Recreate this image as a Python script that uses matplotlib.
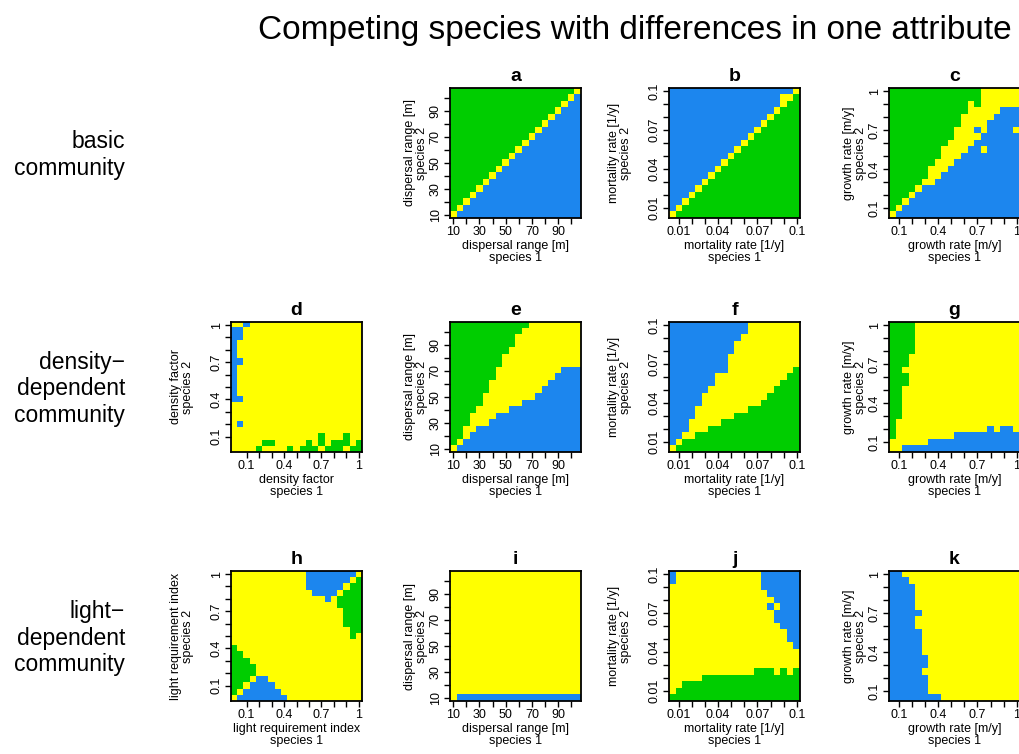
import numpy as np
import matplotlib.pyplot as plt
from matplotlib.colors import ListedColormap

plt.rcParams["font.family"] = ["Liberation Sans", "DejaVu Sans"]

# grid values on both axes (species 1 along x, species 2 along y)
dispersal_values = [10, 15, 20, 25, 30, 35, 40, 45, 50, 55, 60, 65, 70, 75, 80, 85, 90, 95, 100, 105]
mortality_values = [0.005, 0.01, 0.015, 0.02, 0.025, 0.03, 0.035, 0.04, 0.045, 0.05,
                    0.055, 0.06, 0.065, 0.07, 0.075, 0.08, 0.085, 0.09, 0.095, 0.1]
growth_values = [0.05, 0.1, 0.15, 0.2, 0.25, 0.3, 0.35, 0.4, 0.45, 0.5,
                 0.55, 0.6, 0.65, 0.7, 0.75, 0.8, 0.85, 0.9, 0.95, 1.0]
fraction_values = [0.0, 0.05, 0.1, 0.15, 0.2, 0.25, 0.3, 0.35, 0.4, 0.45, 0.5,
                   0.55, 0.6, 0.65, 0.7, 0.75, 0.8, 0.85, 0.9, 0.95, 1.0]

dispersal_ticks = [10, 20, 30, 40, 50, 60, 70, 80, 90, 100]
dispersal_labels = ["10", "", "30", "", "50", "", "70", "", "90", ""]
mortality_ticks = [0.01, 0.02, 0.03, 0.04, 0.05, 0.06, 0.07, 0.08, 0.09, 0.1]
mortality_labels = ["0.01", "", "", "0.04", "", "", "0.07", "", "", "0.1"]
unit_ticks = [0.1, 0.2, 0.3, 0.4, 0.5, 0.6, 0.7, 0.8, 0.9, 1.0]
unit_labels = ["0.1", "", "", "0.4", "", "", "0.7", "", "", "1"]

# outcome per cell, top row = highest value of species 2
# G = green, B = blue, Y = yellow
grid_a = [
    "GGGGG GGGGG GGGGG GGGGY",
    "GGGGG GGGGG GGGGG GGGYB",
    "GGGGG GGGGG GGGGG GGYBB",
    "GGGGG GGGGG GGGGG GYBBB",
    "GGGGG GGGGG GGGGG YBBBB",
    "GGGGG GGGGG GGGGY BBBBB",
    "GGGGG GGGGG GGGYB BBBBB",
    "GGGGG GGGGG GGYBB BBBBB",
    "GGGGG GGGGG GYBBB BBBBB",
    "GGGGG GGGGG YBBBB BBBBB",
    "GGGGG GGGGY BBBBB BBBBB",
    "GGGGG GGGYB BBBBB BBBBB",
    "GGGGG GGYBB BBBBB BBBBB",
    "GGGGG GYBBB BBBBB BBBBB",
    "GGGGG YBBBB BBBBB BBBBB",
    "GGGGY BBBBB BBBBB BBBBB",
    "GGGYB BBBBB BBBBB BBBBB",
    "GGYBB BBBBB BBBBB BBBBB",
    "GYBBB BBBBB BBBBB BBBBB",
    "YBBBB BBBBB BBBBB BBBBB",
]

grid_b = [
    "BBBBB BBBBB BBBBB BBBBY",
    "BBBBB BBBBB BBBBB BBYYG",
    "BBBBB BBBBB BBBBB BBYGG",
    "BBBBB BBBBB BBBBB BYGGG",
    "BBBBB BBBBB BBBBB YGGGG",
    "BBBBB BBBBB BBBBY GGGGG",
    "BBBBB BBBBB BBBYG GGGGG",
    "BBBBB BBBBB BBYGG GGGGG",
    "BBBBB BBBBB BYGGG GGGGG",
    "BBBBB BBBBB YGGGG GGGGG",
    "BBBBB BBBBY GGGGG GGGGG",
    "BBBBB BBBYG GGGGG GGGGG",
    "BBBBB BBYGG GGGGG GGGGG",
    "BBBBB BYGGG GGGGG GGGGG",
    "BBBBB YGGGG GGGGG GGGGG",
    "BBBBY GGGGG GGGGG GGGGG",
    "BBBYG GGGGG GGGGG GGGGG",
    "BBYGG GGGGG GGGGG GGGGG",
    "BYGGG GGGGG GGGGG GGGGG",
    "YGGGG GGGGG GGGGG GGGGG",
]

grid_c = [
    "GGGGG GGGGG GGGGY YYYYY",
    "GGGGG GGGGG GGGGY YYYYY",
    "GGGGG GGGGG GGYGY YYYYY",
    "GGGGG GGGGG GGYYY YYBBB",
    "GGGGG GGGGG GYYYY YBBBB",
    "GGGGG GGGGG GYYYY BBBBB",
    "GGGGG GGGGG YYYBY BBBBY",
    "GGGGG GGGGG YYYYB BBBBB",
    "GGGGG GGGGY YYYBB BBBBB",
    "GGGGG GGGYY YYBBY BBBBB",
    "GGGGG GGGYY YBBBB BBBBB",
    "GGGGG GGYYY BBBBB BBBBB",
    "GGGGG GYYYB BBBBB BBBBB",
    "GGGGG GYYBB BBBBB BBBBB",
    "GGGGG YYBBB BBBBB BBBBB",
    "GGGGY BBBBB BBBBB BBBBB",
    "GGGYB BBBBB BBBBB BBBBB",
    "GGYBB BBBBB BBBBB BBBBB",
    "GYBBB BBBBB BBBBB BBBBB",
    "YBBBB BBBBB BBBBB BBBBB",
]

grid_d = [
    "YYBYY YYYYY YYYYY YYYYY Y",
    "BBYYY YYYYY YYYYY YYYYY Y",
    "BBYYY YYYYY YYYYY YYYYY Y",
    "BYYYY YYYYY YYYYY YYYYY Y",
    "BYYYY YYYYY YYYYY YYYYY Y",
    "BYYYY YYYYY YYYYY YYYYY Y",
    "BBYYY YYYYY YYYYY YYYYY Y",
    "BYYYY YYYYY YYYYY YYYYY Y",
    "BYYYY YYYYY YYYYY YYYYY Y",
    "BYYYY YYYYY YYYYY YYYYY Y",
    "BYYYY YYYYY YYYYY YYYYY Y",
    "BYYYY YYYYY YYYYY YYYYY Y",
    "BBYYY YYYYY YYYYY YYYYY Y",
    "YYYYY YYYYY YYYYY YYYYY Y",
    "YYYYY YYYYY YYYYY YYYYY Y",
    "YYYYY YYYYY YYYYY YYYYY Y",
    "YBYYY YYYYY YYYYY YYYYY Y",
    "YYYYY YYYYY YYYYY YYYYY Y",
    "YYYYY YYYYY YYYYG YYYGY Y",
    "YYYYY GGYYY YYGYG YGGGY G",
    "YYYYG YYYYG YGGGY GGGYG G",
]

grid_e = [
    "GGGGG GGGGG GGYYY YYYYY",
    "GGGGG GGGGG GYYYY YYYYY",
    "GGGGG GGGGG YYYYY YYYYY",
    "GGGGG GGGGG YYYYY YYYYY",
    "GGGGG GGGGY YYYYY YYYYY",
    "GGGGG GGGYY YYYYY YYYYY",
    "GGGGG GGGYY YYYYY YYYYY",
    "GGGGG GGYYY YYYYY YYBBB",
    "GGGGG GGYYY YYYYY YBBBB",
    "GGGGG GYYYY YYYYY BBBBB",
    "GGGGG GYYYY YYYYB BBBBB",
    "GGGGG YYYYY YYYBB BBBBB",
    "GGGGG YYYYY YBBBB BBBBB",
    "GGGGY YYYYB BBBBB BBBBB",
    "GGGYY YYBBB BBBBB BBBBB",
    "GGGYY YBBBB BBBBB BBBBB",
    "GGYYB BBBBB BBBBB BBBBB",
    "GGYBB BBBBB BBBBB BBBBB",
    "GYBBB BBBBB BBBBB BBBBB",
    "YBBBB BBBBB BBBBB BBBBB",
]

grid_f = [
    "BBBBB BBBBB BBYYY YYYYY",
    "BBBBB BBBBB BBYYY YYYYY",
    "BBBBB BBBBB BYYYY YYYYY",
    "BBBBB BBBBB YYYYY YYYYY",
    "BBBBB BBBBB YYYYY YYYYY",
    "BBBBB BBBBY YYYYY YYYYY",
    "BBBBB BBBBY YYYYY YYYYY",
    "BBBBB BBBBY YYYYY YYYYG",
    "BBBBB BBYYY YYYYY YYYGG",
    "BBBBB BBYYY YYYYY YYGGG",
    "BBBBB BYYYY YYYYY YGGGG",
    "BBBBB YYYYY YYYYY GGGGG",
    "BBBBB YYYYY YYYYG GGGGG",
    "BBBBY YYYYY YYGGG GGGGG",
    "BBBBY YYYYY GGGGG GGGGG",
    "BBBYY YYYGG GGGGG GGGGG",
    "BBBYY YGGGG GGGGG GGGGG",
    "BBYYG GGGGG GGGGG GGGGG",
    "BYGGG GGGGG GGGGG GGGGG",
    "YGGGG GGGGG GGGGG GGGGG",
]

grid_g = [
    "GGGGY YYYYY YYYYY YYYYY",
    "GGGGY YYYYY YYYYY YYYYY",
    "GGGGY YYYYY YYYYY YYYYY",
    "GGGGY YYYYY YYYYY YYYYY",
    "GGGGY YYYYY YYYYY YYYYY",
    "GGGYY YYYYY YYYYY YYYYY",
    "GGGYY YYYYY YYYYY YYYYY",
    "GGYYY YYYYY YYYYY YYYYY",
    "GGGYY YYYYY YYYYY YYYYY",
    "GGGYY YYYYY YYYYY YYYYY",
    "GGYYY YYYYY YYYYY YYYYY",
    "GGYYY YYYYY YYYYY YYYYY",
    "GGYYY YYYYY YYYYY YYYYY",
    "GGYYY YYYYY YYYYY YYYYY",
    "GGYYY YYYYY YYYYY YYYYY",
    "GYYYY YYYYY YYYYY YYYYY",
    "GYYYY YYYYY YYYYY BYBBY",
    "GYYYY YYYYY BBBBB BBBBB",
    "YYYYY YBBBB BBBBB BBBBB",
    "YYBBB BBBBB BBBBB BBBBB",
]

grid_h = [
    "YYYYY YYYYY YYBBB BBBBB Y",
    "YYYYY YYYYY YYBBB BBBBY G",
    "YYYYY YYYYY YYBBB BBBYG G",
    "YYYYY YYYYY YYYBB BBYGG G",
    "YYYYY YYYYY YYYYY BYGGG G",
    "YYYYY YYYYY YYYYY YYGGG G",
    "YYYYY YYYYY YYYYY YYYGG G",
    "YYYYY YYYYY YYYYY YYYGG G",
    "YYYYY YYYYY YYYYY YYYGG G",
    "YYYYY YYYYY YYYYY YYYYG G",
    "YYYYY YYYYY YYYYY YYYYG Y",
    "YYYYY YYYYY YYYYY YYYYY Y",
    "GYYYY YYYYY YYYYY YYYYY Y",
    "GGYYY YYYYY YYYYY YYYYY Y",
    "GGGYY YYYYY YYYYY YYYYY Y",
    "GGGGY YYYYY YYYYY YYYYY Y",
    "GGGGY YYYYY YYYYY YYYYY Y",
    "GGGYB BYYYY YYYYY YYYYY Y",
    "GGYBB BBYYY YYYYY YYYYY Y",
    "GYBBB BBBYY YYYYY YYYYY Y",
    "YBBBB BBBBY YYYYY YYYYY Y",
]

grid_i = [
    "YYYYY YYYYY YYYYY YYYYY",
    "YYYYY YYYYY YYYYY YYYYY",
    "YYYYY YYYYY YYYYY YYYYY",
    "YYYYY YYYYY YYYYY YYYYY",
    "YYYYY YYYYY YYYYY YYYYY",
    "YYYYY YYYYY YYYYY YYYYY",
    "YYYYY YYYYY YYYYY YYYYY",
    "YYYYY YYYYY YYYYY YYYYY",
    "YYYYY YYYYY YYYYY YYYYY",
    "YYYYY YYYYY YYYYY YYYYY",
    "YYYYY YYYYY YYYYY YYYYY",
    "YYYYY YYYYY YYYYY YYYYY",
    "YYYYY YYYYY YYYYY YYYYY",
    "YYYYY YYYYY YYYYY YYYYY",
    "YYYYY YYYYY YYYYY YYYYY",
    "YYYYY YYYYY YYYYY YYYYY",
    "YYYYY YYYYY YYYYY YYYYY",
    "YYYYY YYYYY YYYYY YYYYY",
    "YYYYY YYYYY YYYYY YYYYY",
    "YBBBB BBBBB BBBBB BBBBB",
]

grid_j = [
    "BYYYY YYYYY YYYYB BBBBB",
    "BYYYY YYYYY YYYYB BBBBB",
    "YYYYY YYYYY YYYYB BBBBB",
    "YYYYY YYYYY YYYYY BBBBB",
    "YYYYY YYYYY YYYYY YBBBB",
    "YYYYY YYYYY YYYYY BYBBB",
    "YYYYY YYYYY YYYYY YBBBB",
    "YYYYY YYYYY YYYYY YBBBB",
    "YYYYY YYYYY YYYYY YYBBB",
    "YYYYY YYYYY YYYYY YYYBB",
    "YYYYY YYYYY YYYYY YYYBB",
    "YYYYY YYYYY YYYYY YYYYB",
    "YYYYY YYYYY YYYYY YYYYY",
    "YYYYY YYYYY YYYYY YYYYY",
    "YYYYY YYYYY YYYYY YYYYY",
    "YYYYY YYYYY YYYGG GYGYG",
    "YYYYY GGGGG GGGGG GGGGG",
    "YYGGG GGGGG GGGGG GGGGG",
    "YGGGG GGGGG GGGGG GGGGG",
    "GGGGG GGGGG GGGGG GGGGG",
]

grid_k = [
    "BBYYY YYYYY YYYYY YYYYY",
    "BBBYY YYYYY YYYYY YYYYY",
    "BBBBY YYYYY YYYYY YYYYY",
    "BBBBY YYYYY YYYYY YYYYY",
    "BBBBY YYYYY YYYYY YYYYY",
    "BBBBY YYYYY YYYYY YYYYY",
    "BBBBB YYYYY YYYYY YYYYY",
    "BBBBY YYYYY YYYYY YYYYY",
    "BBBBY YYYYY YYYYY YYYYY",
    "BBBBB YYYYY YYYYY YYYYY",
    "BBBBB YYYYY YYYYY YYYYY",
    "BBBBB YYYYY YYYYY YYYYY",
    "BBBBB YYYYY YYYYY YYYYY",
    "BBBBB BYYYY YYYYY YYYYY",
    "BBBBB BYYYY YYYYY YYYYY",
    "BBBBB YYYYY YYYYY YYYYY",
    "BBBBB BYYYY YYYYY YYYYY",
    "BBBBB BYYYY YYYYY YYYYY",
    "BBBBB BYYYY YYYYY YYYYY",
    "BBBBB BBBYY YYYYY YYYYY",
]

row_names = ["basic\ncommunity", "density\u2212\ndependent\ncommunity", "light\u2212\ndependent\ncommunity"]

# attribute -> (grid values, ticks, tick labels, axis name, ylabel pad)
attributes = {
    "dispersal": (dispersal_values, dispersal_ticks, dispersal_labels, "dispersal range [m]", 1),
    "mortality": (mortality_values, mortality_ticks, mortality_labels, "mortality rate [1/y]", 12),
    "growth": (growth_values, unit_ticks, unit_labels, "growth rate [m/y]", 1),
    "density": (fraction_values, unit_ticks, unit_labels, "density factor", 12),
    "light": (fraction_values, unit_ticks, unit_labels, "light requirement index", 12),
}

# letter, grid, attribute, row, column
panels = [
    ("a", grid_a, "dispersal", 0, 1),
    ("b", grid_b, "mortality", 0, 2),
    ("c", grid_c, "growth", 0, 3),
    ("d", grid_d, "density", 1, 0),
    ("e", grid_e, "dispersal", 1, 1),
    ("f", grid_f, "mortality", 1, 2),
    ("g", grid_g, "growth", 1, 3),
    ("h", grid_h, "light", 2, 0),
    ("i", grid_i, "dispersal", 2, 1),
    ("j", grid_j, "mortality", 2, 2),
    ("k", grid_k, "growth", 2, 3),
]


def to_array(rows):
    codes = {"G": 0, "B": 1, "Y": 2}
    return np.array([[codes[ch] for ch in row.replace(" ", "")] for row in rows])


W, H = 1019, 754
col_left = [231, 450, 669, 889]
row_top = [88, 322, 571]
pw, ph = 131, 130
cmap = ListedColormap(["#00CD00", "#1C86EE", "#FFFF00"])

fig = plt.figure(figsize=(W / 100, H / 100), dpi=100)

for letter, rows, attr, r, c in panels:
    values, ticks, labels, name, ypad = attributes[attr]
    half = (values[1] - values[0]) / 2
    lo, hi = values[0] - half, values[-1] + half

    ax = fig.add_axes([col_left[c] / W, 1 - (row_top[r] + ph) / H, pw / W, ph / H])
    ax.imshow(to_array(rows), cmap=cmap, vmin=0, vmax=2, origin="upper",
              aspect="auto", interpolation="nearest", extent=(lo, hi, lo, hi))
    ax.set_xlim(lo, hi)
    ax.set_ylim(lo, hi)
    ax.set_xticks(ticks)
    ax.set_xticklabels(labels)
    ax.set_yticks(ticks)
    ax.set_yticklabels(labels, rotation=90, va="center")
    ax.tick_params(length=4, width=1, labelsize=9, pad=2)
    ax.set_xlabel(name + "\nspecies 1", fontsize=9, labelpad=1, linespacing=1.0)
    ax.set_ylabel(name + "\nspecies 2", fontsize=9, labelpad=ypad, linespacing=1.0)
    for s in ax.spines.values():
        s.set_linewidth(1.3)
    ax.set_title(letter, fontweight="bold", fontsize=14, pad=5)

for r, label in enumerate(row_names):
    fig.text(125 / W, 1 - (row_top[r] + ph / 2 + 2) / H, label, ha="right", va="center",
             fontsize=16.5, linespacing=1.22)

fig.text(635 / W, 1 - 30 / H, "Competing species with differences in one attribute",
         ha="center", va="center", fontsize=24)

fig.savefig("out.png", dpi=100)
